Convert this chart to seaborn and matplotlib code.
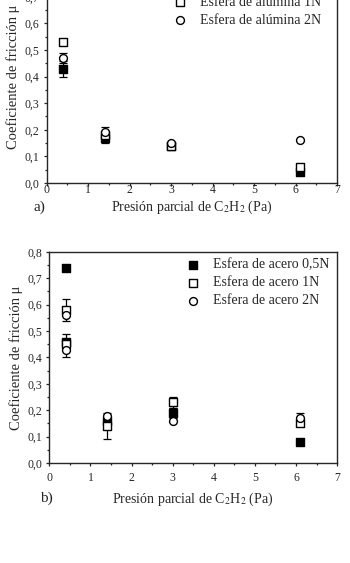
import numpy as np
import pandas as pd
import seaborn as sns
import matplotlib
matplotlib.use("Agg")
import matplotlib.pyplot as plt
from matplotlib.ticker import FuncFormatter, MultipleLocator

# --- data ---
# a) alumina ball
x_alu = [0.4, 1.4, 3.0, 6.1]
alu_05 = [0.43, 0.17, 0.14, 0.04]
alu_05_err = [0.03, 0.02, 0.0, 0.0]
alu_1 = [0.53, 0.18, 0.14, 0.06]
alu_1_err = [0.0, 0.0, 0.0, 0.0]
alu_2 = [0.47, 0.19, 0.15, 0.16]
alu_2_err = [0.02, 0.02, 0.0, 0.0]

# b) steel ball
x_ace = [0.4, 0.4, 1.4, 3.0, 6.1]
ace_05 = [0.74, 0.46, 0.16, 0.19, 0.08]
ace_05_err = [0.0, 0.03, 0.0, 0.02, 0.0]
ace_1 = [0.58, 0.45, 0.14, 0.23, 0.15]
ace_1_err = [0.04, 0.0, 0.05, 0.02, 0.01]
ace_2 = [0.56, 0.43, 0.18, 0.16, 0.17]
ace_2_err = [0.0, 0.03, 0.0, 0.0, 0.02]

labels_alu = ["Esfera de alúmina 0,5N", "Esfera de alúmina 1N", "Esfera de alúmina 2N"]
labels_ace = ["Esfera de acero 0,5N", "Esfera de acero 1N", "Esfera de acero 2N"]

sns.set_style("ticks")
plt.rcParams['font.family'] = ['Liberation Serif', 'DejaVu Serif']
plt.rcParams['mathtext.fontset'] = 'stix'
plt.rcParams['xtick.major.size'] = 2.5
plt.rcParams['ytick.major.size'] = 2.5
plt.rcParams['xtick.minor.size'] = 1.5
plt.rcParams['ytick.minor.size'] = 1.5
plt.rcParams['xtick.minor.visible'] = True
plt.rcParams['ytick.minor.visible'] = True

fig = plt.figure(figsize=(3.5, 5.63), dpi=100)
ax1 = fig.add_axes([0.133, 0.675, 0.83, 0.378])
ax2 = fig.add_axes([0.141, 0.1776, 0.822, 0.375])

styles = [dict(marker='s', color='black'),
          dict(marker='s', color='white'),
          dict(marker='o', color='white')]


def draw(ax, x, series, errs, labels, xpad, lpad):
    for y, e, lab, st in zip(series, errs, labels, styles):
        ax.errorbar(x, y, yerr=e, fmt='none', ecolor='black', elinewidth=0.9,
                    capsize=3, capthick=0.9, zorder=2)
        sns.scatterplot(x=x, y=y, ax=ax, marker=st['marker'], color=st['color'],
                        edgecolor='black', linewidth=1.0, s=32, label=lab, zorder=3)
    ax.set_xlim(0, 7)
    ax.set_ylim(0, 0.8)
    ax.xaxis.set_major_locator(MultipleLocator(1))
    ax.xaxis.set_minor_locator(MultipleLocator(0.5))
    ax.yaxis.set_major_locator(MultipleLocator(0.1))
    ax.yaxis.set_minor_locator(MultipleLocator(0.05))
    ax.xaxis.set_major_formatter(FuncFormatter(lambda v, p: f"{v:.0f}"))
    ax.yaxis.set_major_formatter(FuncFormatter(lambda v, p: f"{v:.1f}".replace('.', ',')))
    ax.tick_params(labelsize=8.5, width=0.9)
    ax.tick_params(axis='y', pad=2.5)
    ax.tick_params(axis='x', pad=xpad)
    ax.tick_params(which='minor', width=0.9)
    for sp in ax.spines.values():
        sp.set_linewidth(1.0)
        sp.set_visible(True)
    ax.set_xlabel("Presión parcial de C$_2$H$_2$ (Pa)", fontsize=10, labelpad=lpad)
    ax.set_ylabel("Coeficiente de fricción μ", fontsize=10.5)
    ax.yaxis.set_label_coords(-0.092, 0.5)


draw(ax1, x_alu, [alu_05, alu_1, alu_2], [alu_05_err, alu_1_err, alu_2_err], labels_alu, -2, 2.2)
draw(ax2, x_ace, [ace_05, ace_1, ace_2], [ace_05_err, ace_1_err, ace_2_err], labels_ace, 4, 4.5)

for ax, anchor in [(ax1, (0.412, 0.99)), (ax2, (0.45, 0.995))]:
    ax.legend(loc='upper left', bbox_to_anchor=anchor, frameon=False, fontsize=10,
              handletextpad=0.85, labelspacing=0.35, borderaxespad=0, handlelength=1.2)

fig.text(33 / 350, 1 - 207 / 563, "a)", fontsize=11, ha='left', va='center')
fig.text(40 / 350, 1 - 498 / 563, "b)", fontsize=11, ha='left', va='center')

fig.savefig("out.png", dpi=100)
